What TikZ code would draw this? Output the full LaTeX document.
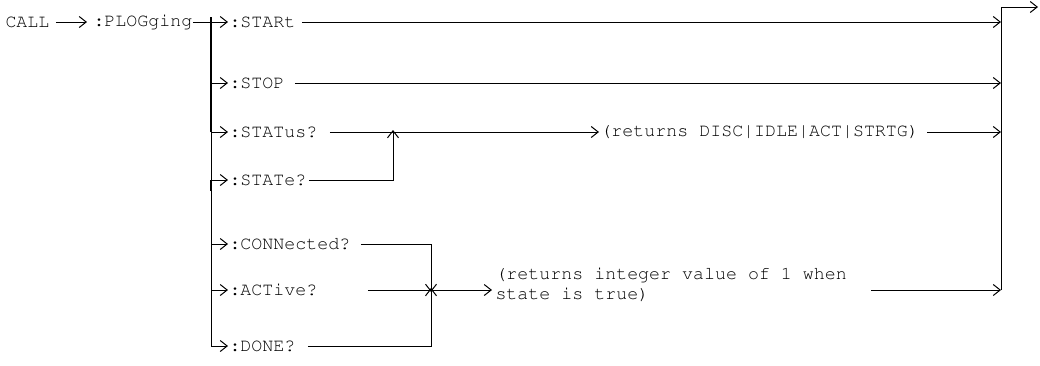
\documentclass[tikz,border=0pt]{standalone}
\usepackage[T1]{fontenc}
\usepackage{courier}
\usetikzlibrary{arrows.meta,positioning,calc}

\begin{document}
\begin{tikzpicture}[x=1pt,y=-1pt,line width=1pt,
  t/.style={font=\ttfamily\fontsize{18.3}{19.5}\selectfont,inner sep=0pt,anchor=west},
  ar/.style={-{Straight Barb[length=7pt,width=11pt]}},
  bus/.style={line width=1.8pt}]
\useasboundingbox (0,0) rectangle (1040,365);
\node[t] (call) at (5,22) {CALL};
\node[t] (plog) at (93,22) {:PLOGging};
\node[t] (start) at (229,22) {:STARt};
\node[t] (stop) at (229,83) {:STOP};
\node[t] (stat) at (229,132) {:STATus?};
\node[t] (state) at (229,180) {:STATe?};
\node[t] (conn) at (229,244) {:CONNected?};
\node[t] (act) at (229,290) {:ACTive?};
\node[t] (done) at (229,346) {:DONE?};
\node[t] (ret) at (600,132) {(returns DISC|IDLE|ACT|STRTG)};
\node[t,align=left,anchor=south west] (reti) at (495,302)
  {(returns integer value of 1 when\\state is true)};
\coordinate (j) at (211,22);
\coordinate (rb) at (1001,7);
\coordinate (mu) at (393,132);
\coordinate (mi) at (431,290);
\draw[ar] ([xshift=6pt]call.east) -- ([xshift=-6pt]plog.west);
\draw (plog.east) -- (j);
\draw[ar] (j) -- ([xshift=-1pt]start.west);
\draw (j) -- (j |- done);
\draw[bus] ([yshift=5pt]j) -- (j |- stat);
\draw[bus] ([yshift=-11pt]j |- state) -- (j |- state);
\foreach \n in {stop,stat,state,conn,act,done}
  \draw[ar] (j |- \n) -- ([xshift=-1pt]\n.west);
\draw (rb |- act) -- (rb);
\draw[ar] (rb) -- (1038,7);
\draw[ar] ([xshift=6pt]start.east) -- (rb |- start);
\draw[ar] ([xshift=10pt]stop.east) -- (rb |- stop);
\draw[ar] ([xshift=12pt]stat.east) -- ([xshift=-1pt]ret.west);
\draw[ar] ([xshift=8pt]ret.east) -- (rb |- ret);
\draw[ar] ([xshift=2pt]state.east) -| ([yshift=2pt]mu);
\draw[ar] ([xshift=10pt]conn.east) -| ([yshift=-2pt]mi);
\draw[ar] ([xshift=12pt]done.east) -| ([yshift=2pt]mi);
\draw[ar] ([xshift=50pt]act.east) -- ([xshift=-3pt]reti.west |- act);
\draw[ar] ([xshift=24pt]reti.east |- act) -- (rb |- act);
\end{tikzpicture}
\end{document}
